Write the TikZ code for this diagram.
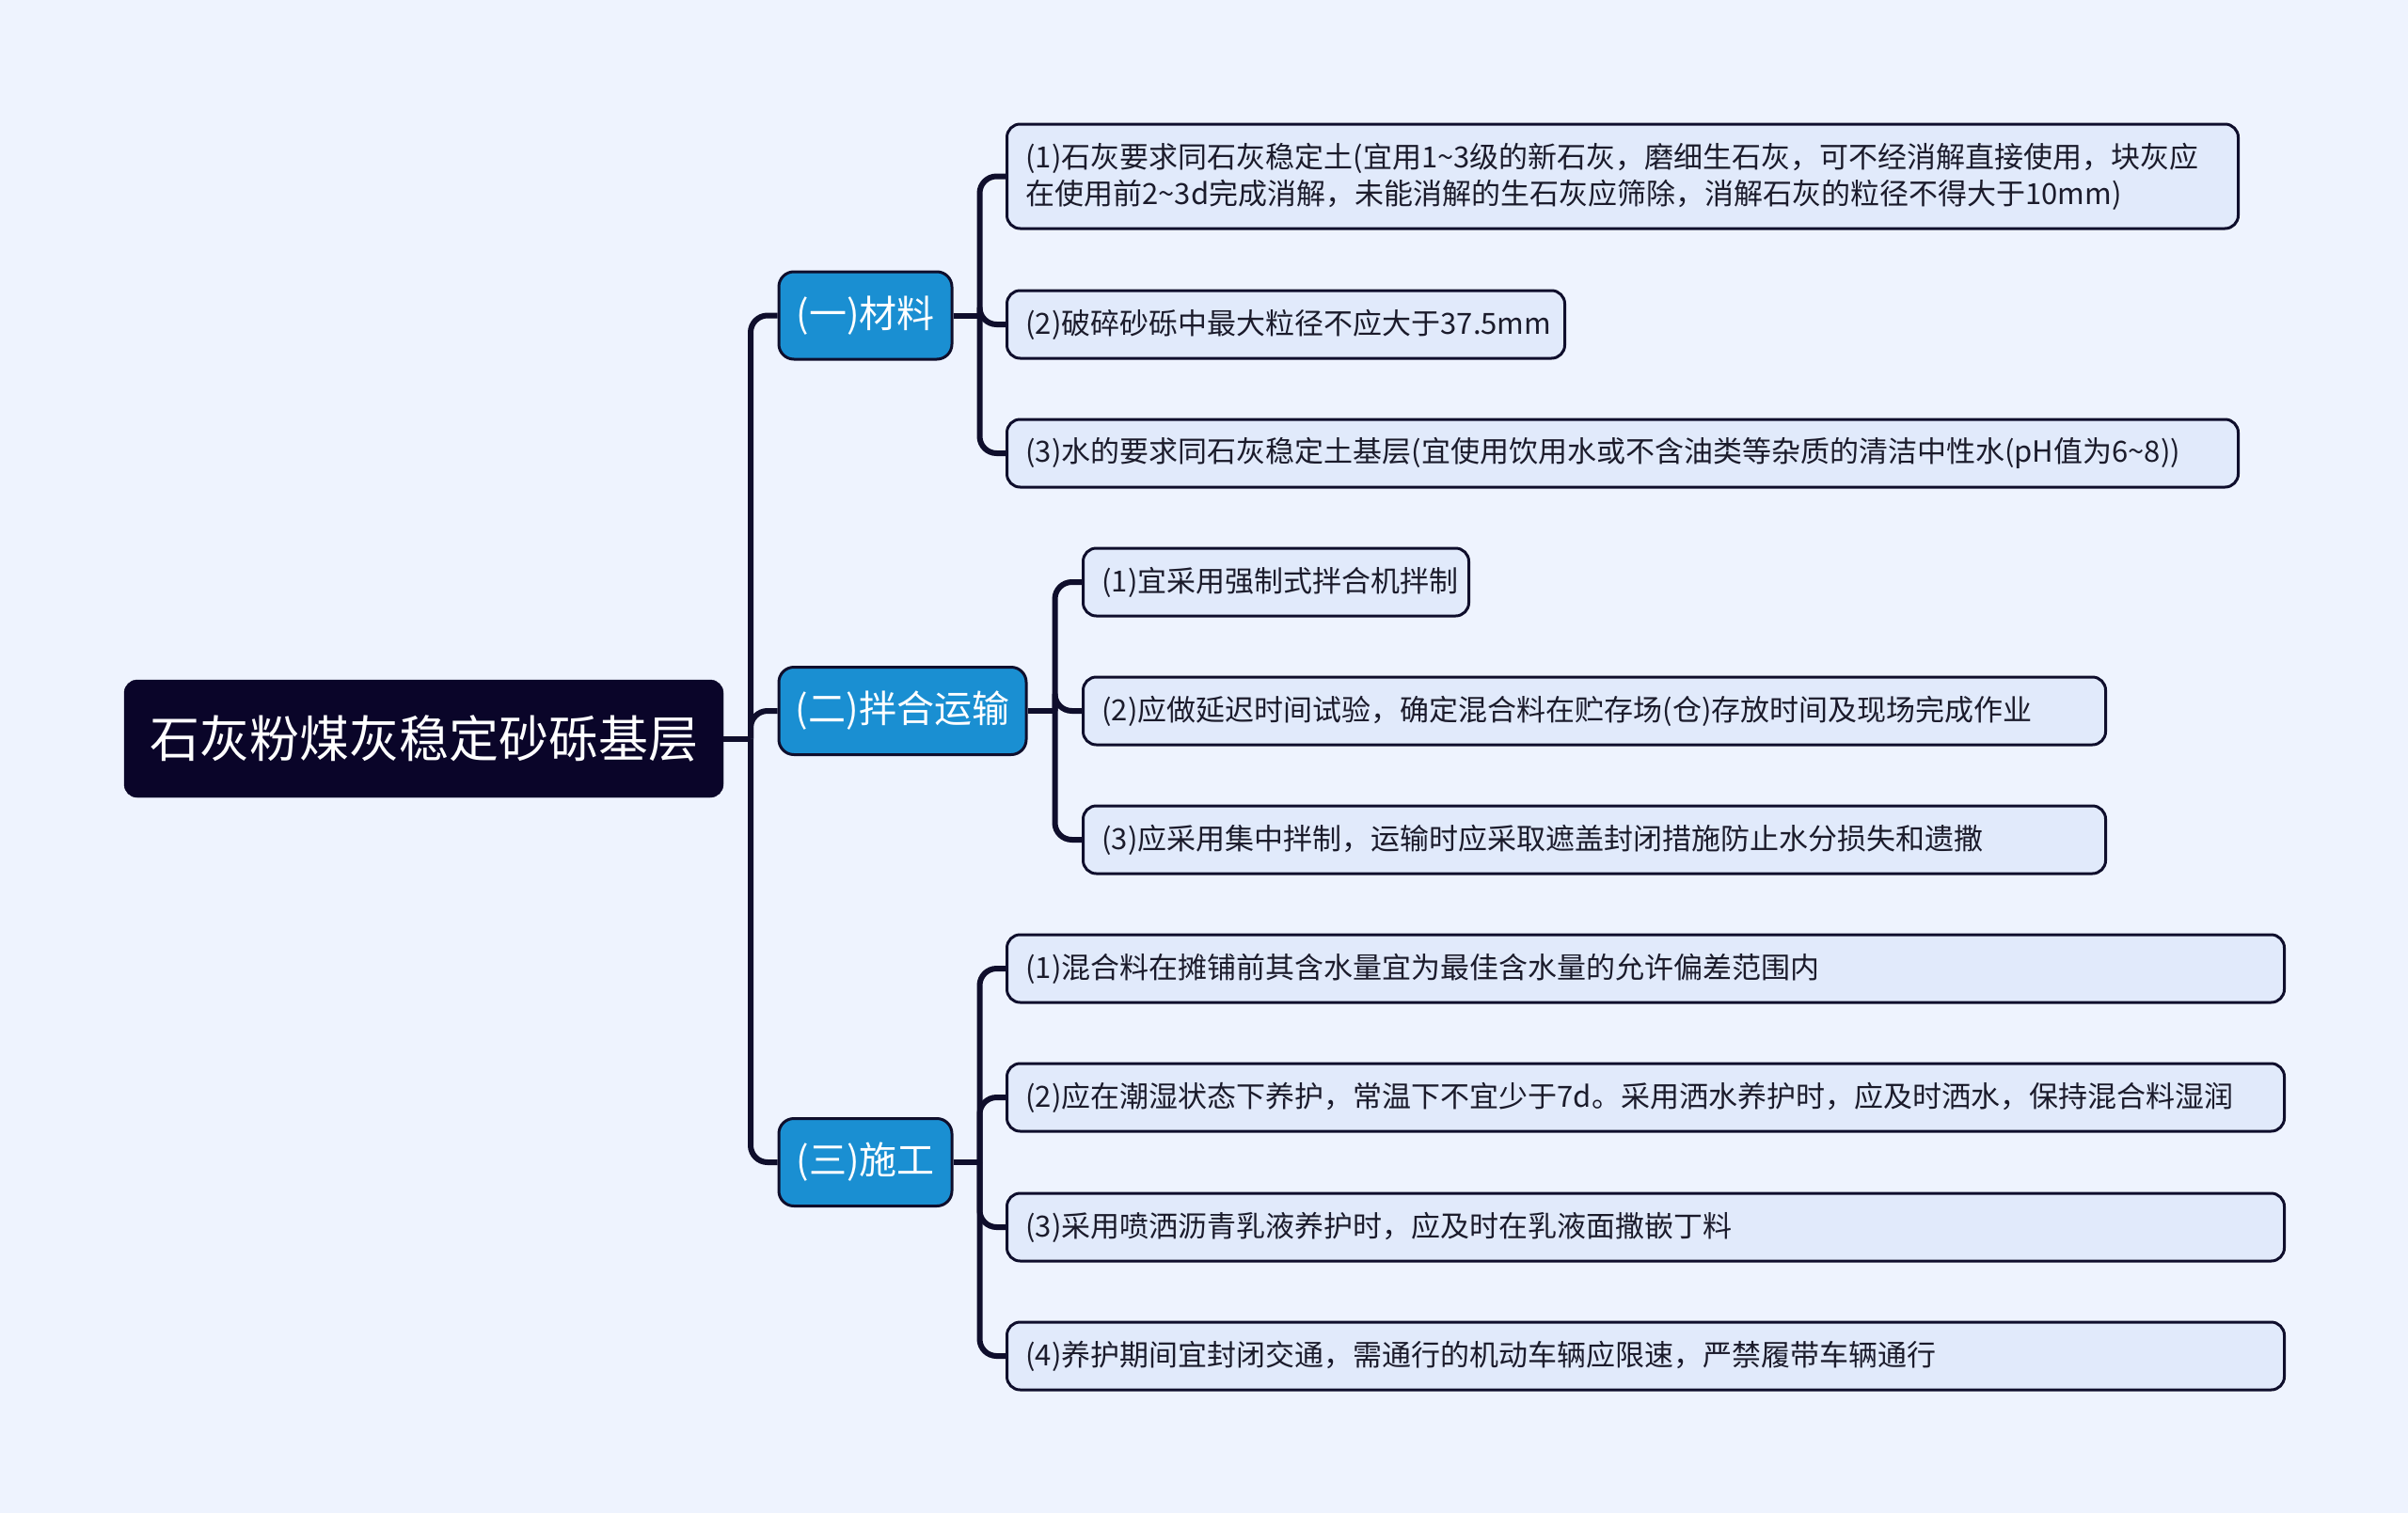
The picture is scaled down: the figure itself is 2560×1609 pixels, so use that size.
\documentclass[tikz,border=0pt]{standalone}
\usepackage{fontspec}
\newfontfamily\cjk{Noto Sans CJK SC}
\definecolor{bgcol}{HTML}{EEF3FE}
\definecolor{linecol}{HTML}{0F0E2C}
\definecolor{rootfill}{HTML}{0A0529}
\definecolor{topicfill}{HTML}{1A8FD2}
\definecolor{leaffill}{HTML}{E1EAFB}
\definecolor{leaftext}{HTML}{1B1B2B}

\tikzset{
  rootbox/.style={draw=rootfill, fill=rootfill, text=white, rounded corners=14pt,
    minimum width=637, minimum height=125, font=\cjk\fontsize{53}{60}\selectfont},
  topicbox/.style={draw=linecol, fill=topicfill, text=white, line width=3pt,
    rounded corners=16pt, minimum height=93, font=\cjk\fontsize{40}{48}\selectfont},
  leafbox/.style={draw=linecol, fill=leaffill, text=leaftext, line width=3pt,
    rounded corners=14pt, anchor=west, align=left, inner xsep=20pt,
    minimum height=72, font=\cjk\fontsize{31}{39}\selectfont},
  link/.style={draw=linecol, line width=6pt, rounded corners=18pt},
}

\begin{document}
\begin{tikzpicture}[x=1pt, y=-1pt]
  \fill[bgcol] (0,0) rectangle (2560,1609);
  \useasboundingbox (0,0) rectangle (2560,1609);

  % root and topics
  \node[rootbox] (root) at (450.5,785.5) {石灰粉煤灰稳定砂砾基层};
  \node[topicbox, minimum width=184] (mat) at (920,335.5) {(一)材料};
  \node[topicbox, minimum width=263] (mix) at (959.5,756) {(二)拌合运输};
  \node[topicbox, minimum width=184] (con) at (920,1236) {(三)施工};

  % leaves
  \node[leafbox, text width=1269, minimum height=111] (m1) at (1069,187.5)
    {(1)石灰要求同石灰稳定土(宜用1\textasciitilde3级的新石灰，磨细生石灰，可不经消解直接使用，块灰应\\在使用前2\textasciitilde3d完成消解，未能消解的生石灰应筛除，消解石灰的粒径不得大于10mm)};
  \node[leafbox, text width=553] (m2) at (1069,345) {(2)破碎砂砾中最大粒径不应大于37.5mm};
  \node[leafbox, text width=1269] (m3) at (1069,482)
    {(3)水的要求同石灰稳定土基层(宜使用饮用水或不含油类等杂质的清洁中性水(pH值为6\textasciitilde8))};

  \node[leafbox, text width=370] (b1) at (1150,619) {(1)宜采用强制式拌合机拌制};
  \node[leafbox, text width=1047] (b2) at (1150,756) {(2)应做延迟时间试验，确定混合料在贮存场(仓)存放时间及现场完成作业};
  \node[leafbox, text width=1047] (b3) at (1150,893) {(3)应采用集中拌制，运输时应采取遮盖封闭措施防止水分损失和遗撒};

  \node[leafbox, text width=1318] (s1) at (1069,1030) {(1)混合料在摊铺前其含水量宜为最佳含水量的允许偏差范围内};
  \node[leafbox, text width=1318] (s2) at (1069,1167) {(2)应在潮湿状态下养护，常温下不宜少于7d。采用洒水养护时，应及时洒水，保持混合料湿润};
  \node[leafbox, text width=1318] (s3) at (1069,1305) {(3)采用喷洒沥青乳液养护时，应及时在乳液面撒嵌丁料};
  \node[leafbox, text width=1318] (s4) at (1069,1442) {(4)养护期间宜封闭交通，需通行的机动车辆应限速，严禁履带车辆通行};

  % connectors
  \draw[link] (root.east) -- (798,785.5) coordinate (rj);
  \foreach \t in {mat,mix,con}
    \draw[link] (rj) |- (\t.west);

  \draw[link] (mat.east) -- ++(28,0) coordinate (j1);
  \foreach \l in {m1,m2,m3}
    \draw[link] (j1) |- (\l.west);

  \draw[link] (mix.east) -- ++(29,0) coordinate (j2);
  \foreach \l in {b1,b2,b3}
    \draw[link] (j2) |- (\l.west);

  \draw[link] (con.east) -- ++(28,0) coordinate (j3);
  \foreach \l in {s1,s2,s3,s4}
    \draw[link] (j3) |- (\l.west);
\end{tikzpicture}
\end{document}
